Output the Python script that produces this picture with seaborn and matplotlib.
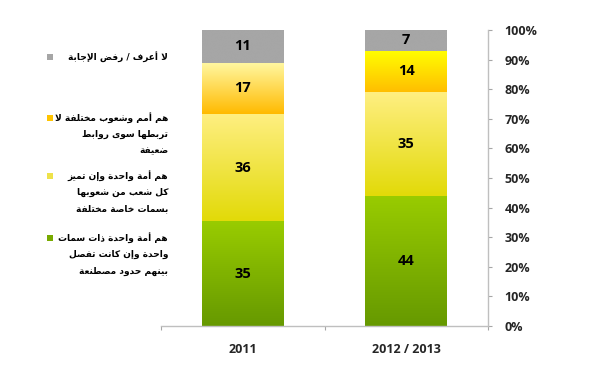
import numpy as np
import pandas as pd

import matplotlib
matplotlib.use("Agg")

import matplotlib.pyplot as plt
from matplotlib.patches import Rectangle
from matplotlib.colors import LinearSegmentedColormap
from matplotlib import font_manager
import seaborn as sns

# -----------------------------
# Data
# -----------------------------
years = ["2011", "2012 / 2013"]
segments = ["green", "yellow", "orange", "gray"]
green_vals = [35, 44]
yellow_vals = [36, 35]
orange_vals = [17, 14]
gray_vals = [11, 7]

legend_lines = {
    "gray": ["لا أعرف / رفض الإجابة"],
    "orange": ["هم أمم وشعوب مختلفة لا", "تربطها سوى روابط", "ضعيفة"],
    "yellow": ["هم أمة واحدة وإن تميز", "كل شعب من شعوبها", "بسمات خاصة مختلفة"],
    "green": ["هم أمة واحدة ذات سمات", "واحدة وإن كانت تفصل", "بينهم حدود مصطنعة"],
}

yticks = [0, 10, 20, 30, 40, 50, 60, 70, 80, 90, 100]
ytick_labels = [f"{t}%" for t in yticks]

# -----------------------------
# Arabic shaping (presentation forms + visual order)
# -----------------------------
DUAL = {
    "ب": 0xFE8F, "ت": 0xFE95, "ث": 0xFE99, "ج": 0xFE9D, "ح": 0xFEA1,
    "خ": 0xFEA5, "س": 0xFEB1, "ش": 0xFEB5, "ص": 0xFEB9, "ض": 0xFEBD,
    "ط": 0xFEC1, "ظ": 0xFEC5, "ع": 0xFEC9, "غ": 0xFECD, "ف": 0xFED1,
    "ق": 0xFED5, "ك": 0xFED9, "ل": 0xFEDD, "م": 0xFEE1, "ن": 0xFEE5,
    "ه": 0xFEE9, "ي": 0xFEF1,
}
RIGHT = {
    "ا": 0xFE8D, "أ": 0xFE83, "إ": 0xFE87, "آ": 0xFE81, "ة": 0xFE93,
    "د": 0xFEA9, "ذ": 0xFEAB, "ر": 0xFEAD, "ز": 0xFEAF, "و": 0xFEED,
    "ى": 0xFEEF,
}
LAM_ALEF = {"ا": 0xFEFB, "أ": 0xFEF7, "إ": 0xFEF9, "آ": 0xFEF5}


def shape(text):
    # merge lam + alef into ligature tokens
    tokens = []
    i = 0
    while i < len(text):
        c = text[i]
        if c == "ل" and i + 1 < len(text) and text[i + 1] in LAM_ALEF:
            tokens.append(("lig", LAM_ALEF[text[i + 1]]))
            i += 2
        else:
            tokens.append(("ch", c))
            i += 1

    def is_ar(t):
        return t[0] == "lig" or t[1] in DUAL or t[1] in RIGHT

    def joins_next(t):
        return t[0] == "ch" and t[1] in DUAL

    out = []
    for k, t in enumerate(tokens):
        prev_t = tokens[k - 1] if k > 0 else None
        next_t = tokens[k + 1] if k + 1 < len(tokens) else None
        jp = prev_t is not None and joins_next(prev_t) and is_ar(t)
        jn = joins_next(t) and next_t is not None and is_ar(next_t)
        if t[0] == "lig":
            out.append(chr(t[1] + (1 if jp else 0)))
        elif t[1] in DUAL:
            base = DUAL[t[1]]
            off = 3 if (jp and jn) else 1 if jp else 2 if jn else 0
            out.append(chr(base + off))
        elif t[1] in RIGHT:
            out.append(chr(RIGHT[t[1]] + (1 if jp else 0)))
        else:
            out.append(t[1])
    return "".join(out)[::-1]


# -----------------------------
# Build table
# -----------------------------
df = pd.DataFrame({
    "year": years,
    "green": green_vals,
    "yellow": yellow_vals,
    "orange": orange_vals,
    "gray": gray_vals,
})
totals = df[segments].sum(axis=1)
for s in segments:
    df[s + "_pct"] = df[s] / totals * 100
cum = df[[s + "_pct" for s in segments]].cumsum(axis=1)
cum.columns = segments
for s in segments:
    df[s + "_top"] = cum[s]

gradients = {
    "green": [("#669900", "#99CC00"), ("#669900", "#99CC00")],
    "yellow": [("#E2DA08", "#FFEF82"), ("#E2DA08", "#FFEF82")],
    "orange": [("#FFBA00", "#FFF7A0"), ("#FFBE00", "#FFFF00")],
    "gray": [("#A6A6A6", "#A6A6A6"), ("#A6A6A6", "#A6A6A6")],
}
legend_colors = {"gray": "#A6A6A6", "orange": "#FFC400", "yellow": "#EEE24A", "green": "#78AA00"}

# Arabic legend font: condensed DejaVu if present
installed = {f.name for f in font_manager.fontManager.ttflist}
arabic_family = "DejaVu Sans Condensed" if "DejaVu Sans Condensed" in installed else "DejaVu Sans"
arabic_size = 7.0 if arabic_family == "DejaVu Sans Condensed" else 6.5

# -----------------------------
# Plot
# -----------------------------
sns.set_style("white")
plt.rcParams["font.family"] = ["Open Sans", "DejaVu Sans"]

fig = plt.figure(figsize=(6, 3.74), dpi=100)
ax = fig.add_axes([161 / 600, 1 - 326 / 374, 327 / 600, 296 / 374])

# draw cumulative bars from the top layer down
for s in segments[::-1]:
    sns.barplot(data=df, x="year", y=s + "_top", color=legend_colors[s],
                width=0.5, ax=ax, saturation=1, zorder=1)

# gradient fill of each segment
grad = np.linspace(0, 1, 256).reshape(-1, 1)
bars = ax.patches[:len(years)]
for j, bar in enumerate(bars):
    x0 = bar.get_x()
    w = bar.get_width()
    lower = 0
    for s in segments:
        upper = df.loc[j, s + "_top"]
        lo_c, hi_c = gradients[s][j]
        cmap = LinearSegmentedColormap.from_list(s, [lo_c, hi_c])
        ax.imshow(grad, cmap=cmap, aspect="auto", origin="lower",
                  extent=[x0, x0 + w, lower, upper], zorder=2)
        ax.text(x0 + w / 2, (lower + upper) / 2, str(df.loc[j, s]),
                ha="center", va="center", fontsize=10.5, fontweight="bold",
                color="black", zorder=3)
        lower = upper

ax.set_xlim(-0.5, len(years) - 0.5)
ax.set_ylim(0, 100)
ax.set_xlabel("")
ax.set_ylabel("")

ax.yaxis.tick_right()
ax.set_yticks(yticks)
ax.set_yticklabels(ytick_labels, fontsize=9, fontweight="bold")
ax.tick_params(axis="y", direction="out", length=3, width=0.8, color="#A6A6A6",
               pad=9, right=True, left=False)

ax.set_xticks(range(len(years)))
ax.set_xticklabels(years, fontsize=9, fontweight="bold")
ax.set_xticks(np.arange(-0.5, len(years)), minor=True)
ax.tick_params(axis="x", which="major", length=0, pad=12)
ax.tick_params(axis="x", which="minor", direction="out", length=3, width=0.8,
               color="#A6A6A6", bottom=True)

for side in ["top", "left"]:
    ax.spines[side].set_visible(False)
for side in ["right", "bottom"]:
    ax.spines[side].set_visible(True)
    ax.spines[side].set_color("#BFBFBF")
    ax.spines[side].set_linewidth(1)

# -----------------------------
# Legend (left side, right-aligned Arabic text)
# -----------------------------
legend_y = {"gray": 57, "orange": 118, "yellow": 176, "green": 238}
line_step = 16.5
for s in ["gray", "orange", "yellow", "green"]:
    y0 = legend_y[s]
    fig.patches.append(Rectangle((47 / 600, 1 - (y0 + 3) / 374), 6 / 600, 6 / 374,
                                 transform=fig.transFigure, facecolor=legend_colors[s],
                                 edgecolor="none"))
    for k, line in enumerate(legend_lines[s]):
        fig.text(168 / 600, 1 - (y0 + k * line_step) / 374, shape(line),
                 ha="right", va="center", fontsize=arabic_size, fontweight="bold",
                 family=arabic_family, color="black")

plt.savefig("out.png", dpi=100)
plt.close()
